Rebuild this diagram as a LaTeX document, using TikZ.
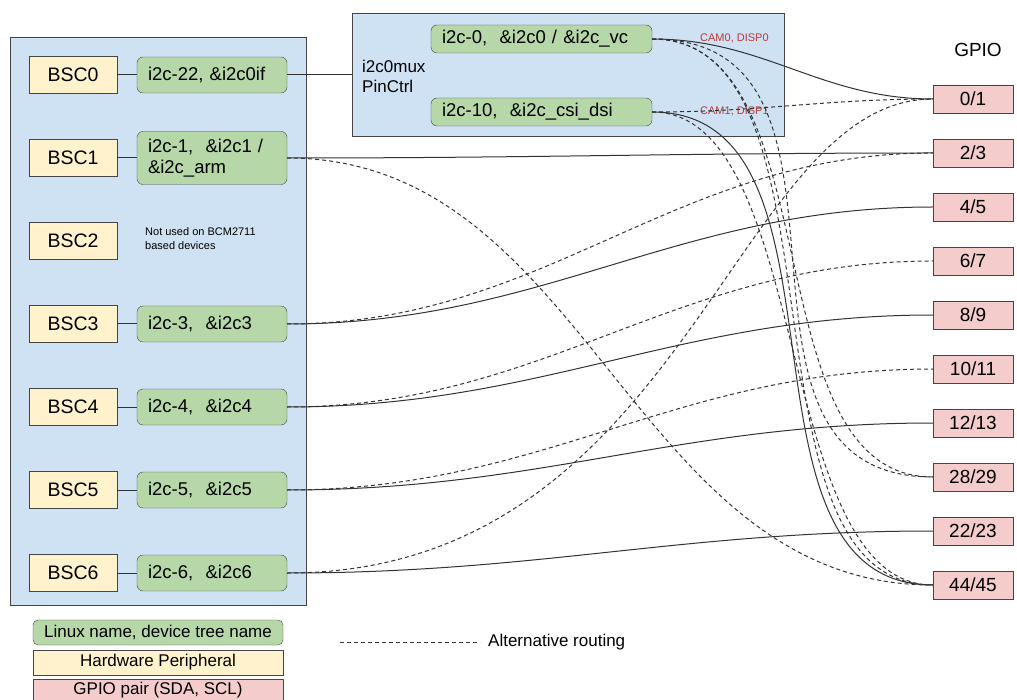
\documentclass[tikz,border=0pt]{standalone}
\usepackage{fontspec}
\setmainfont{Liberation Sans}
\usetikzlibrary{positioning}

\definecolor{groupblue}{HTML}{CFE2F3}
\definecolor{linuxgreen}{HTML}{B6D7A8}
\definecolor{hwyellow}{HTML}{FFF2CC}
\definecolor{gpiopink}{HTML}{F4CCCC}
\definecolor{edgegray}{HTML}{454545}
\definecolor{camred}{HTML}{B83A3A}

\begin{document}
\begin{tikzpicture}[
    x=1pt, y=-1pt,
    on grid,
    group/.style={draw=edgegray, fill=groupblue, inner sep=0pt},
    hw/.style={draw=edgegray, fill=hwyellow, minimum width=88pt, minimum height=37pt,
        inner sep=0pt, font=\fontsize{19.5}{23}\selectfont},
    linux/.style={draw=edgegray, fill=linuxgreen, rounded corners=6pt, minimum height=36pt,
        inner xsep=11pt, inner ysep=0pt, text width=128pt, align=left,
        font=\fontsize{18.5}{21}\selectfont},
    gpio/.style={draw=edgegray, fill=gpiopink, minimum width=80pt, minimum height=28pt,
        inner sep=0pt, font=\fontsize{19}{23}\selectfont},
    key/.style={draw=edgegray, minimum width=250pt, minimum height=25pt, inner sep=0pt,
        font=\fontsize{17}{20}\selectfont},
    note/.style={align=left, inner sep=0pt, anchor=west, font=\fontsize{11}{14}\selectfont},
    cam/.style={text=camred, inner sep=0pt, anchor=west, font=\fontsize{11}{13}\selectfont},
    wire/.style={draw=black!80, line width=1pt},
    alt/.style={wire, dash pattern=on 4pt off 3pt},
    curve/.style={out=0, in=180},
]

    \path[use as bounding box, fill=white] (0,0) rectangle (1017,700);

    % boxes behind
    \node[group, minimum width=296pt, minimum height=568pt] (soc) at (158,321) {};
    \node[group, minimum width=432pt, minimum height=123pt] (mux) at (568,74.5) {};
    \node[note, font=\fontsize{17}{20}\selectfont] (muxname) at (362,76) {i2c0mux\\PinCtrl};

    % hardware peripherals
    \node[hw                    ] (bsc0) at (73,75) {BSC0};
    \node[hw, below=83pt of bsc0] (bsc1) {BSC1};
    \node[hw, below=83pt of bsc1] (bsc2) {BSC2};
    \node[hw, below=83pt of bsc2] (bsc3) {BSC3};
    \node[hw, below=83pt of bsc3] (bsc4) {BSC4};
    \node[hw, below=83pt of bsc4] (bsc5) {BSC5};
    \node[hw, below=83pt of bsc5] (bsc6) {BSC6};

    % linux names
    \node[linux, right=139pt of bsc0] (g22) {i2c-22, \&i2c0if};
    \node[linux, right=139pt of bsc1, minimum height=53pt] (g1) {i2c-1,~~\&i2c1 /\\\&i2c\_arm};
    \node[note] (unused) at (145,239) {Not used on BCM2711\\based devices};
    \node[linux, right=139pt of bsc3] (g3) {i2c-3,~~\&i2c3};
    \node[linux, right=139pt of bsc4] (g4) {i2c-4,~~\&i2c4};
    \node[linux, right=139pt of bsc5] (g5) {i2c-5,~~\&i2c5};
    \node[linux, right=139pt of bsc6] (g6) {i2c-6,~~\&i2c6};

    \node[linux, text width=199pt, minimum height=28pt] (m0) at (541.5,39) {i2c-0,~~\&i2c0 / \&i2c\_vc};
    \node[linux, text width=199pt, minimum height=28pt, below=73pt of m0] (m10) {i2c-10,~~\&i2c\_csi\_dsi};
    \node[cam] (cam0) at (700,38) {CAM0, DISP0};
    \node[cam] (cam1) at (700,111) {CAM1, DISP1};

    % gpio pairs
    \node[font=\fontsize{19}{23}\selectfont] (gpiohead) at (978,50) {GPIO};
    \node[gpio                      ] (p01)   at (973,99) {0/1};
    \node[gpio, below=54pt of p01   ] (p23)   {2/3};
    \node[gpio, below=54pt of p23   ] (p45)   {4/5};
    \node[gpio, below=54pt of p45   ] (p67)   {6/7};
    \node[gpio, below=54pt of p67   ] (p89)   {8/9};
    \node[gpio, below=54pt of p89   ] (p1011) {10/11};
    \node[gpio, below=54pt of p1011 ] (p1213) {12/13};
    \node[gpio, below=54pt of p1213 ] (p2829) {28/29};
    \node[gpio, below=54pt of p2829 ] (p2223) {22/23};
    \node[gpio, below=54pt of p2223 ] (p4445) {44/45};

    % legend
    \node[key, fill=linuxgreen, rounded corners=5pt] (keylinux) at (158,632.5) {Linux name, device tree name};
    \node[key, fill=hwyellow, below=30pt of keylinux] (keyhw) {Hardware Peripheral};
    \node[key, fill=gpiopink, below=28pt of keyhw, minimum height=23pt] (keygpio) {GPIO pair (SDA, SCL)};
    \coordinate (altfrom) at (340,642);
    \coordinate[right=140pt of altfrom] (altto);
    \node[anchor=west, inner sep=0pt, font=\fontsize{17}{20}\selectfont] (altlabel) at (488,642) {Alternative routing};
    \draw[alt] (altfrom) -- (altto);

    \path
        (bsc0) edge[wire] (g22)
        (bsc1) edge[wire] (g1)
        (bsc3) edge[wire] (g3)
        (bsc4) edge[wire] (g4)
        (bsc5) edge[wire] (g5)
        (bsc6) edge[wire] (g6)
        (g22)  edge[wire] (g22 -| mux.west)
        (m0)   edge[wire, curve]                  (p01)
        (m0)   edge[alt, curve, looseness=0.9]    (p2829)
        (m0)   edge[alt, curve, looseness=1.2]    (p2829)
        (m0)   edge[alt, curve, looseness=0.85]   (p4445)
        (m10)  edge[alt, curve]                   (p01)
        (m10)  edge[wire, curve]                  (p4445)
        (m10)  edge[alt, curve, looseness=0.75]   (p4445)
        (g1)   edge[wire, curve]                  (p23)
        (g1)   edge[alt, curve]                   (p4445)
        (g3)   edge[wire, curve]                  (p45)
        (g3)   edge[alt, curve]                   (p23)
        (g4)   edge[wire, curve]                  (p89)
        (g4)   edge[alt, curve]                   (p67)
        (g5)   edge[wire, curve]                  (p1213)
        (g5)   edge[alt, curve]                   (p1011)
        (g6)   edge[wire, curve]                  (p2223)
        (g6)   edge[alt, curve, out distance=400pt, in distance=200pt] (p01)
    ;
\end{tikzpicture}
\end{document}
